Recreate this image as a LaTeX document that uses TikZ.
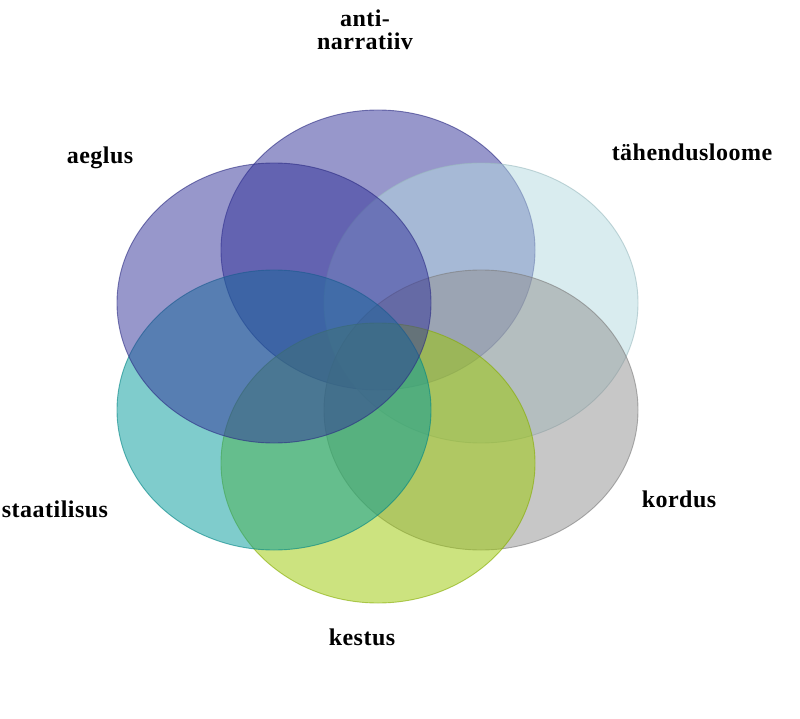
\documentclass[tikz,border=0pt]{standalone}
\usepackage{fontspec}
\setmainfont{Liberation Serif}[LetterSpace=2]
\usetikzlibrary{shapes.geometric}
\definecolor{cTop}{RGB}{49,49,153}
\definecolor{cAeg}{RGB}{49,49,153}
\definecolor{cTah}{RGB}{181,219,225}
\definecolor{cKor}{RGB}{145,145,145}
\definecolor{cKes}{RGB}{155,201,0}
\definecolor{cSta}{RGB}{0,155,155}
\begin{document}
\begin{tikzpicture}[x=1pt,y=-1pt,
  vennset/.style={ellipse, minimum width=314pt, minimum height=280pt, inner sep=0pt,
    fill=#1, fill opacity=0.5, draw=#1!85!black, draw opacity=0.6, line width=0.9pt},
  lbl/.style={font=\fontsize{24}{22.5}\selectfont\bfseries, text=black, inner sep=0pt, align=center}]
\useasboundingbox (0,0) rectangle (800,719);
\fill[white] (0,0) rectangle (800,719);
\node[vennset=cTop] (eTop) at (378,250) {};
\node[vennset=cTah] (eTah) at (481,303) {};
\node[vennset=cKor] (eKor) at (481,410) {};
\node[vennset=cKes] (eKes) at (378,463) {};
\node[vennset=cSta] (eSta) at (274,410) {};
\node[vennset=cAeg] (eAeg) at (274,303) {};
\node[lbl] (lTop) at (365,30) {anti-\\narratiiv};
\node[lbl] (lAeg) at (100,158) {aeglus};
\node[lbl] (lTah) at (692,152) {tähendusloome};
\node[lbl] (lKor) at (679,499) {kordus};
\node[lbl] (lKes) at (362,637) {kestus};
\node[lbl] (lSta) at (55,509) {staatilisus};
\end{tikzpicture}
\end{document}
